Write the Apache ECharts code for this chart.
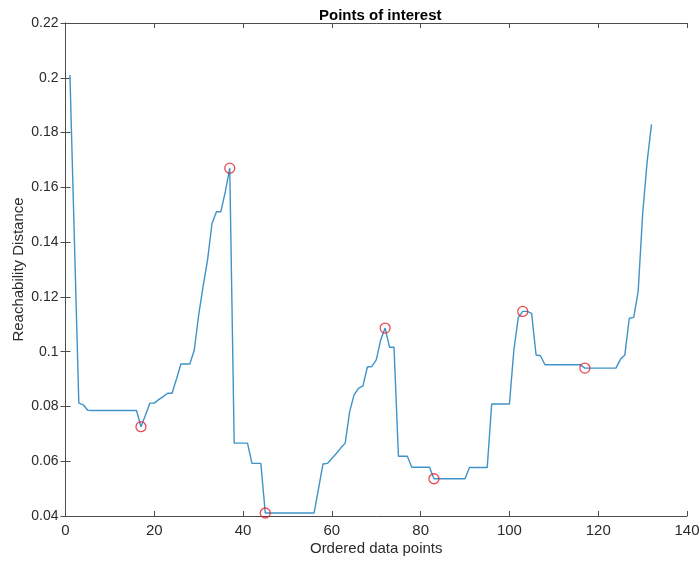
<!DOCTYPE html>
<html>
<head>
<meta charset="utf-8">
<title>Points of interest</title>
<script src="https://cdn.jsdelivr.net/npm/echarts@6/dist/echarts.min.js"></script>
<style>
  html, body { margin: 0; padding: 0; background: #fff; }
  #chart { width: 699px; height: 563px; }
</style>
</head>
<body>
<div id="chart"></div>
<script>
// Reachability distance per ordered data point (x = 1..132)
const reachability = [
    0.201, 0.141, 0.0812, 0.0806, 0.0786, 0.0785, 0.0785, 0.0785, 0.0785, 0.0785,
    0.0785, 0.0785, 0.0785, 0.0785, 0.0785, 0.0785, 0.0726, 0.0768, 0.0812, 0.0812,
    0.0825, 0.0836, 0.0848, 0.0848, 0.0900, 0.0955, 0.0955, 0.0955, 0.1005, 0.1134,
    0.1238, 0.1335, 0.1468, 0.1511, 0.1511, 0.1584, 0.1670, 0.0666, 0.0666, 0.0666,
    0.0666, 0.0592, 0.0592, 0.0592, 0.0411, 0.0411, 0.0411, 0.0411, 0.0411, 0.0411,
    0.0411, 0.0411, 0.0411, 0.0411, 0.0411, 0.0411, 0.0500, 0.0590, 0.0592, 0.0610,
    0.0628, 0.0648, 0.0666, 0.0780, 0.0842, 0.0866, 0.0875, 0.0944, 0.0946, 0.0970,
    0.1043, 0.1086, 0.1016, 0.1016, 0.0618, 0.0618, 0.0618, 0.0578, 0.0578, 0.0578,
    0.0578, 0.0578, 0.0536, 0.0536, 0.0536, 0.0536, 0.0536, 0.0536, 0.0536, 0.0536,
    0.0577, 0.0577, 0.0577, 0.0577, 0.0577, 0.0809, 0.0809, 0.0809, 0.0809, 0.0809,
    0.1006, 0.1125, 0.1147, 0.1147, 0.1140, 0.0988, 0.0985, 0.0952, 0.0952, 0.0952,
    0.0952, 0.0952, 0.0952, 0.0952, 0.0952, 0.0952, 0.0940, 0.0940, 0.0940, 0.0940,
    0.0940, 0.0940, 0.0940, 0.0940, 0.0972, 0.0988, 0.1122, 0.1125, 0.1220, 0.1500,
    0.1690, 0.1830
];

// Puntos de interes (circulos rojos)
const poiX = [17, 37, 45, 72, 83, 103, 117];
const poiY = [0.0726, 0.1670, 0.0411, 0.1086, 0.0536, 0.1147, 0.0940];

// Ejes
const xTicks = [0, 20, 40, 60, 80, 100, 120, 140];
const yTicks = [0.04, 0.06, 0.08, 0.1, 0.12, 0.14, 0.16, 0.18, 0.2, 0.22];

const lineData = reachability.map((v, i) => [i + 1, v]);
const poiData = poiX.map((x, i) => [x, poiY[i]]);

const axisColor = '#4d4d4d';
const textColor = '#2b2b2b';
const fontFamily = '"Liberation Sans", Arial, Helvetica, sans-serif';

const chart = echarts.init(document.getElementById('chart'), null, { renderer: 'canvas' });

const frameAxis = {
    axisLine: { show: true, lineStyle: { color: axisColor, width: 1 } },
    axisTick: { show: true, inside: true, length: 5, lineStyle: { color: axisColor } },
    splitLine: { show: false }
};

chart.setOption({
    animation: false,
    backgroundColor: '#fff',
    title: {
        text: 'Points of interest',
        left: 314,
        top: 3,
        textStyle: { fontFamily, fontSize: 15, fontWeight: 'bold', color: '#000' }
    },
    grid: {
        left: 65.5, right: 12, top: 23, bottom: 47,
        containLabel: false, outerBoundsMode: 'none'
    },
    xAxis: [
        Object.assign({}, frameAxis, {
            type: 'value',
            position: 'bottom',
            min: xTicks[0],
            max: xTicks[xTicks.length - 1],
            interval: 20,
            name: 'Ordered data points',
            nameLocation: 'middle',
            nameGap: 25,
            nameMoveOverlap: false,
            nameTextStyle: { fontFamily, fontSize: 15, color: textColor },
            axisLabel: { margin: 7, fontFamily, fontSize: 15, color: textColor }
        }),
        Object.assign({}, frameAxis, {
            type: 'value',
            position: 'top',
            min: xTicks[0],
            max: xTicks[xTicks.length - 1],
            interval: 20,
            axisLabel: { show: false }
        })
    ],
    yAxis: [
        Object.assign({}, frameAxis, {
            type: 'value',
            position: 'left',
            min: yTicks[0],
            max: yTicks[yTicks.length - 1],
            interval: 0.02,
            name: 'Reachability Distance',
            nameLocation: 'middle',
            nameGap: 39,
            nameMoveOverlap: false,
            nameRotate: 90,
            nameTextStyle: { fontFamily, fontSize: 15, color: textColor },
            axisLabel: {
                margin: 7,
                fontFamily, fontSize: 14, color: textColor,
                formatter: v => String(+v.toFixed(2))
            }
        }),
        Object.assign({}, frameAxis, {
            type: 'value',
            position: 'right',
            min: yTicks[0],
            max: yTicks[yTicks.length - 1],
            interval: 0.02,
            axisLabel: { show: false }
        })
    ],
    series: [
        {
            name: 'Reachability',
            type: 'line',
            data: lineData,
            showSymbol: false,
            lineStyle: { color: '#3f93c9', width: 1.4 },
            z: 2
        },
        {
            name: 'Points of interest',
            type: 'scatter',
            data: poiData,
            symbol: 'circle',
            symbolSize: 10,
            itemStyle: { color: 'transparent', borderColor: '#e0202a', borderWidth: 1.3 },
            z: 3
        }
    ]
});
</script>
</body>
</html>
